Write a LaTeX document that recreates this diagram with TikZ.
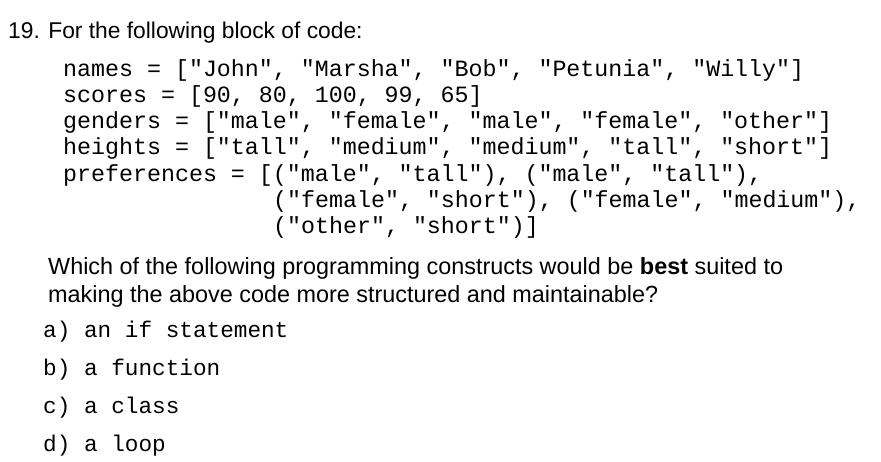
\documentclass[tikz,border=0pt]{standalone}
\usepackage{fontspec}
\setmainfont{Liberation Sans}
\setmonofont{Liberation Mono}
\tikzset{txt/.style={anchor=base west,inner sep=0pt,font=\fontsize{23.4}{26}\selectfont},
code/.style={anchor=base west,inner sep=0pt,font=\ttfamily\fontsize{23.3}{26}\selectfont},
opt/.style={anchor=base west,inner sep=0pt,font=\ttfamily\fontsize{22.7}{26}\selectfont}}
\begin{document}
\begin{tikzpicture}[x=1pt,y=-1pt]
\useasboundingbox (0,0) rectangle (881,461);
\node[txt,font=\fontsize{22.8}{26}\selectfont] (h) at (8,38) {19. For the following block of code:};
\node[code] (c1) at (63,76) {names = ["John", "Marsha", "Bob", "Petunia", "Willy"]};
\node[code] (c2) at (63,102) {scores = [90, 80, 100, 99, 65]};
\node[code] (c3) at (63,128) {genders = ["male", "female", "male", "female", "other"]};
\node[code] (c4) at (63,154) {heights = ["tall", "medium", "medium", "tall", "short"]};
\node[code] (c5) at (63,181) {preferences = [("male", "tall"), ("male", "tall"),};
\node[code] (c6) at (273,207) {("female", "short"), ("female", "medium"),};
\node[code] (c7) at (273,233) {("other", "short")]};
\node[txt] (q1) at (48,274) {Which of the following programming constructs would be \textbf{best} suited to};
\node[txt] (q2) at (48,302) {making the above code more structured and maintainable?};
\node[opt] (a) at (43,337) {a) an if statement};
\node[opt] (b) at (43,375) {b) a function};
\node[opt] (c) at (43,413) {c) a class};
\node[opt] (d) at (43,451) {d) a loop};
\end{tikzpicture}
\end{document}
